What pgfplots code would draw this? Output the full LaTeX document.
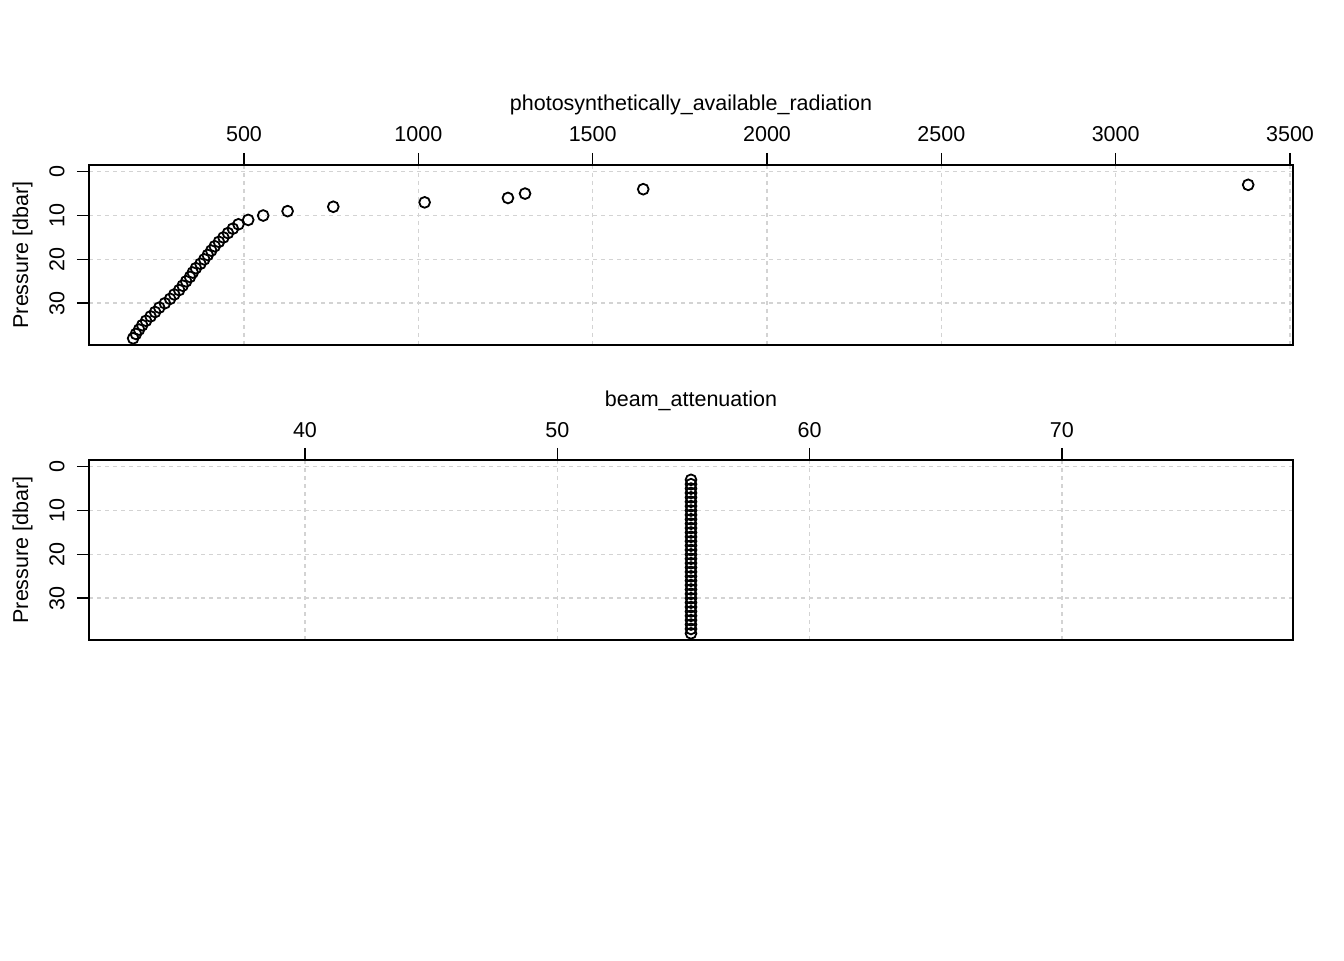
\documentclass[border=0pt]{standalone}
\usepackage{fontspec}
\setmainfont{Liberation Sans}
\usepackage{pgfplots}
\pgfplotsset{compat=1.18}
\definecolor{rgrid}{HTML}{D3D3D3}
\pgfplotstableread{
x y
3380 3
1645 4
1306 5
1257 6
1018 7
756 8
625 9
555 10
512 11
484 12
468 13
454 14
441 15
428 16
416 17
406 18
396 19
386 20
375 21
362 22
353 23
345 24
334 25
324 26
314 27
300 28
288 29
273 30
257 31
245 32
232 33
219 34
208 35
199 36
190 37
182 38
}\parTable
\pgfplotstableread{
x y
55.3 3
55.3 4
55.3 5
55.3 6
55.3 7
55.3 8
55.3 9
55.3 10
55.3 11
55.3 12
55.3 13
55.3 14
55.3 15
55.3 16
55.3 17
55.3 18
55.3 19
55.3 20
55.3 21
55.3 22
55.3 23
55.3 24
55.3 25
55.3 26
55.3 27
55.3 28
55.3 29
55.3 30
55.3 31
55.3 32
55.3 33
55.3 34
55.3 35
55.3 36
55.3 37
55.3 38
}\beamTable
\begin{document}
\fontsize{10.75}{12.9}\selectfont
\begin{tikzpicture}
\path[use as bounding box] (0,0) rectangle (672pt,480pt);
\pgfplotsset{rplot/.style={
  scale only axis, width=602pt, height=90pt,
  anchor=south west,
  y dir=reverse, ymin=-1.52, ymax=39.52,
  ytick={0,10,20,30},
  xtick pos=right, xticklabel pos=right, ytick pos=left,
  tick align=outside, major tick length=6pt,
  grid=major,
  major grid style={rgrid, dash pattern=on 2pt off 2pt, line width=0.75pt},
  axis line style={line width=0.75pt},
  every tick/.style={black, line width=0.75pt},
  scaled ticks=false,
  /pgf/number format/1000 sep={},
  /pgf/number format/assume math mode=true,
  tick label style={font=\fontsize{10.75}{12.9}\selectfont},
  xticklabel style={anchor=base, yshift=5.5pt},
  yticklabel style={xshift=-6.25pt, anchor=base, rotate=90},
  ylabel={Pressure [dbar]},
  every axis y label/.style={at={(axis description cs:0,0.5)}, xshift=-30.5pt, rotate=90, anchor=base},
  clip=false,
}}
\begin{axis}[rplot, at={(44.5pt,307.5pt)},
  xmin=55.4, xmax=3508.6, xtick={500,1000,1500,2000,2500,3000,3500}]
  \addplot[only marks, mark=o, mark size=2.7pt, mark options={line width=0.9pt, black}] table[x=x,y=y] {\parTable};
  \node[anchor=base] at (axis description cs:0.5,1) [yshift=27pt] {photosynthetically\_available\_radiation};
\end{axis}
\begin{axis}[rplot, at={(44.5pt,160pt)},
  xmin=31.44, xmax=79.16, xtick={40,50,60,70}]
  \addplot[only marks, mark=o, mark size=2.7pt, mark options={line width=0.9pt, black}] table[x=x,y=y] {\beamTable};
  \node[anchor=base] at (axis description cs:0.5,1) [yshift=27pt] {beam\_attenuation};
\end{axis}
\end{tikzpicture}
\end{document}
